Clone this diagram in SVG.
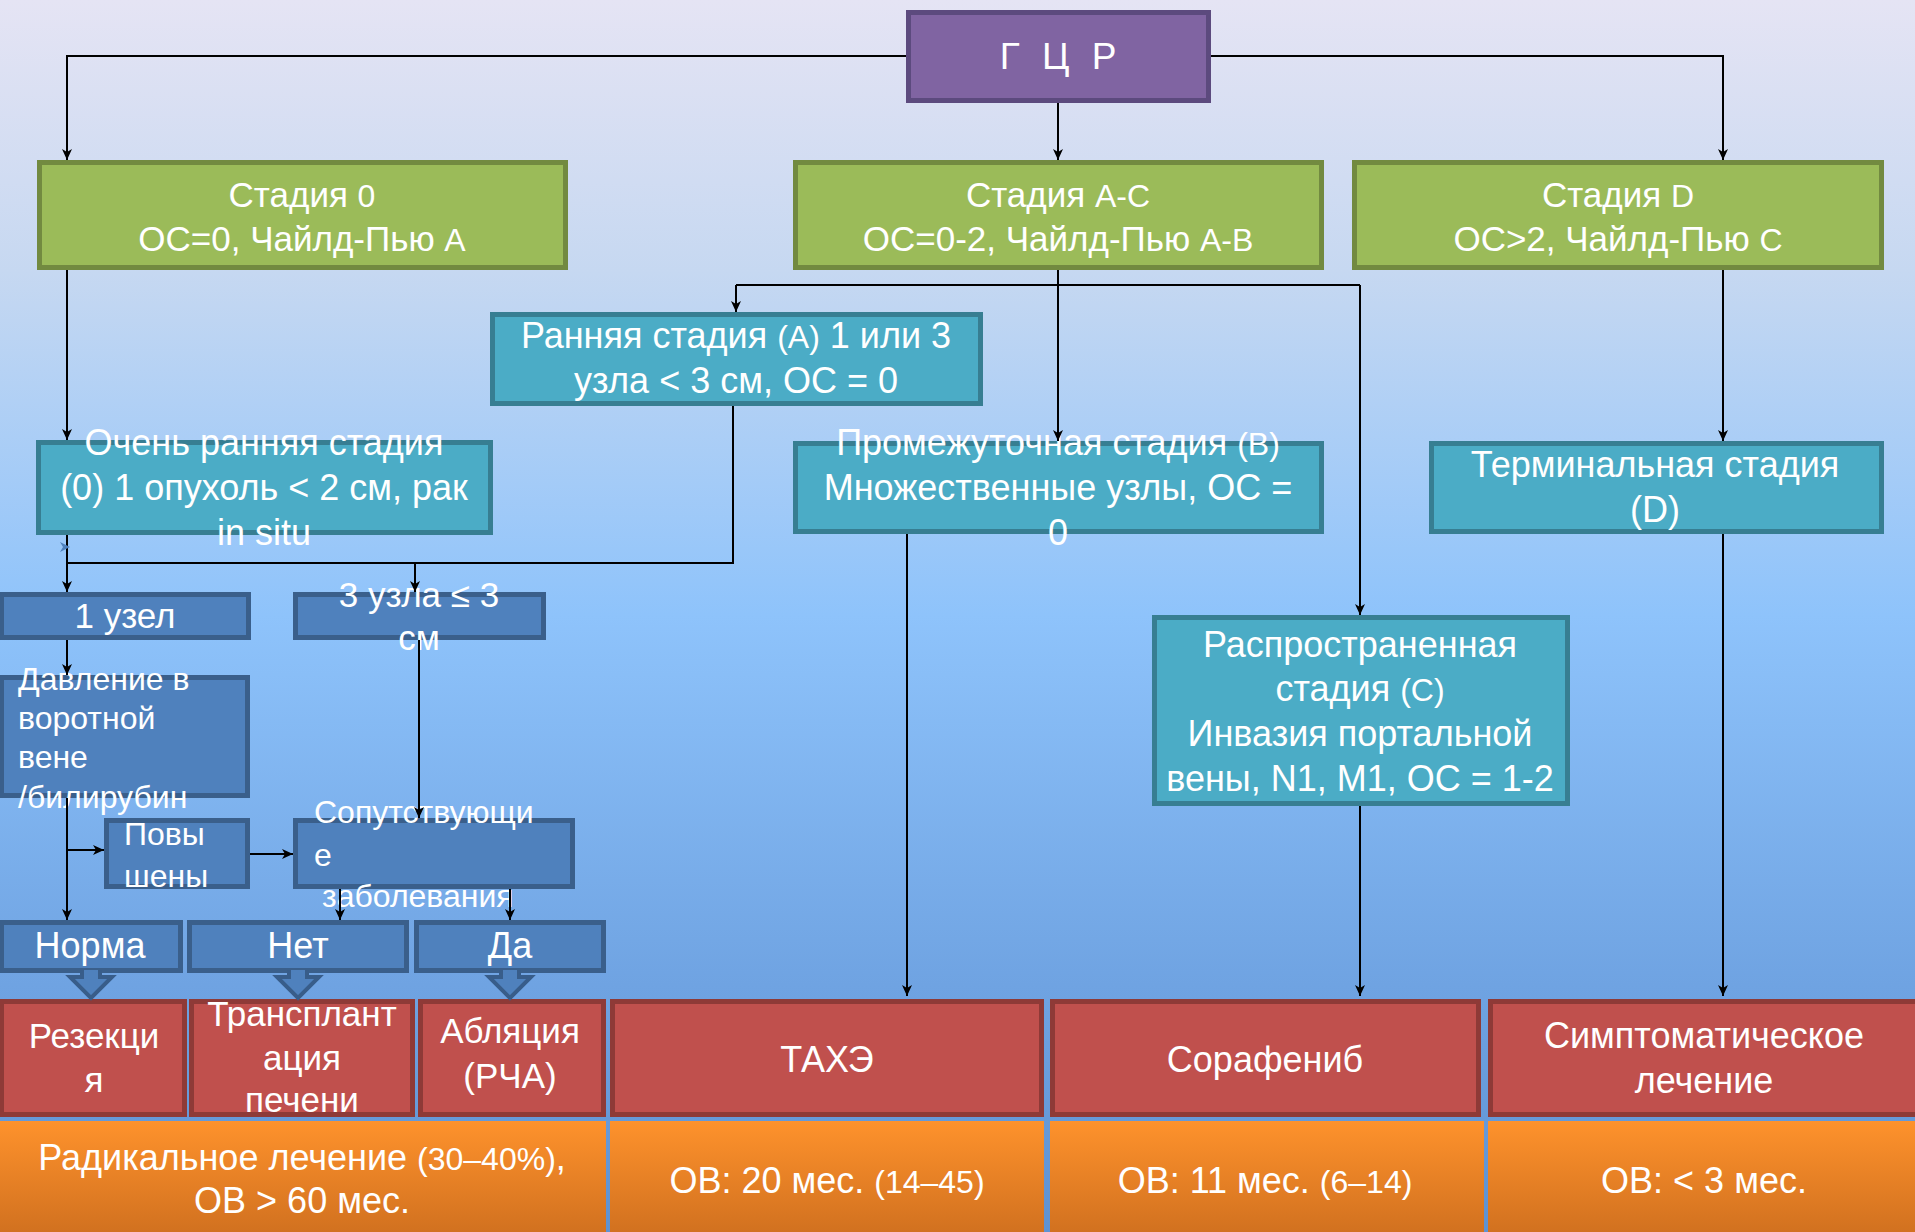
<svg xmlns="http://www.w3.org/2000/svg" width="1915" height="1232" viewBox="0 0 1915 1232">
<defs>
<linearGradient id="bg" x1="0" y1="0" x2="0" y2="1">
<stop offset="0" stop-color="#e5e4f4"/>
<stop offset="0.22" stop-color="#c6d8f1"/>
<stop offset="0.5" stop-color="#8ec3fb"/>
<stop offset="0.8" stop-color="#6fa3e2"/>
<stop offset="1" stop-color="#5e92d2"/>
</linearGradient>
<linearGradient id="og" x1="0" y1="0" x2="0" y2="1">
<stop offset="0" stop-color="#fe922c"/>
<stop offset="1" stop-color="#d0701f"/>
</linearGradient>
<marker id="ah" markerUnits="userSpaceOnUse" markerWidth="12" markerHeight="10" refX="11" refY="5" orient="auto">
<path d="M0,0 L11,5 L0,10 L3,5 z" fill="#000"/>
</marker>
<style>
.t{font-family:"Liberation Sans",Arial,sans-serif;fill:#fff;font-size:35px;text-anchor:middle}
.l{text-anchor:start}
.s32{font-size:32px}
.s36{font-size:36px}
.sm{font-size:32px}
.purple{fill:#8064a2;stroke:#5c4a7e;stroke-width:5}
.green{fill:#9bbb59;stroke:#728a40;stroke-width:5}
.teal{fill:#4bacc6;stroke:#377e92;stroke-width:5}
.blue{fill:#4f81bd;stroke:#3a5f8b;stroke-width:5}
.red{fill:#c0504d;stroke:#8e3a37;stroke-width:5}
.orange{fill:url(#og)}
.barrow{fill:#4f81bd;stroke:#385d8a;stroke-width:4;stroke-linejoin:miter}
.c{fill:none;stroke:#000;stroke-width:2}
.a{marker-end:url(#ah)}
</style>
</defs>
<rect x="0" y="0" width="1915" height="1232" fill="url(#bg)"/>

<g id="gcr"><rect class="purple" x="908.5" y="12.5" width="300" height="88"/>
<text class="t" x="1061" y="69" letter-spacing="6" style="font-size:37px">Г Ц Р</text></g>

<g id="stage0"><rect class="green" x="39.5" y="162.5" width="526" height="105"/>
<text class="t" x="302" y="207">Стадия <tspan class="sm">0</tspan></text>
<text class="t" x="302" y="251">ОС=0, Чайлд-Пью <tspan class="sm">A</tspan></text></g>

<g id="stageAC"><rect class="green" x="795.5" y="162.5" width="526" height="105"/>
<text class="t" x="1058" y="207">Стадия <tspan class="sm">A-C</tspan></text>
<text class="t" x="1058" y="251">ОС=0-2, Чайлд-Пью <tspan class="sm">A-B</tspan></text></g>

<g id="stageD"><rect class="green" x="1354.5" y="162.5" width="527" height="105"/>
<text class="t" x="1618" y="207">Стадия <tspan class="sm">D</tspan></text>
<text class="t" x="1618" y="251">ОС&gt;2, Чайлд-Пью <tspan class="sm">C</tspan></text></g>

<g id="early"><rect class="teal" x="492.5" y="314.5" width="488" height="89"/>
<text class="t s36" x="736" y="348">Ранняя стадия <tspan class="sm">(A)</tspan> 1 или 3</text>
<text class="t s36" x="736" y="393">узла &lt; 3 см, ОС = 0</text></g>

<g id="veryearly"><rect class="teal" x="38.5" y="442.5" width="452" height="90"/>
<text class="t s36" x="264" y="455">Очень ранняя стадия</text>
<text class="t s36" x="264" y="500">(0) 1 опухоль &lt; 2 см, рак</text>
<text class="t s36" x="264" y="545">in situ</text></g>

<g id="intermediate"><rect class="teal" x="795.5" y="443.5" width="526" height="88"/>
<text class="t s36" x="1058" y="455">Промежуточная стадия <tspan class="sm">(B)</tspan></text>
<text class="t s36" x="1058" y="500">Множественные узлы, ОС =</text>
<text class="t s36" x="1058" y="545">0</text></g>

<g id="terminal"><rect class="teal" x="1431.5" y="443.5" width="450" height="88"/>
<text class="t s36" x="1655" y="477">Терминальная стадия</text>
<text class="t s36" x="1655" y="522">(D)</text></g>

<g id="advanced"><rect class="teal" x="1154.5" y="617.5" width="413" height="186"/>
<text class="t s36" x="1360" y="657">Распространенная</text>
<text class="t s36" x="1360" y="701">стадия <tspan class="sm">(C)</tspan></text>
<text class="t s36" x="1360" y="746">Инвазия портальной</text>
<text class="t s36" x="1360" y="791">вены, N1, M1, ОС = 1-2</text></g>

<g id="node1"><rect class="blue" x="1.5" y="594.5" width="247" height="43"/>
<text class="t" x="125" y="628">1 узел</text></g>

<g id="node3"><rect class="blue" x="295.5" y="594.5" width="248" height="43"/>
<text class="t" x="419" y="607">3 узла ≤ 3</text>
<text class="t" x="419" y="650">см</text></g>

<g id="pressure"><rect class="blue" x="1.5" y="677.5" width="246" height="118"/>
<text class="t s32 l" x="18" y="690">Давление в</text>
<text class="t s32 l" x="18" y="729">воротной</text>
<text class="t s32 l" x="18" y="768">вене</text>
<text class="t s32 l" x="18" y="808">/билирубин</text></g>

<g id="increased"><rect class="blue" x="106.5" y="820.5" width="141" height="66"/>
<text class="t s32 l" x="124" y="845">Повы</text>
<text class="t s32 l" x="124" y="887">шены</text></g>

<g id="comorbid"><rect class="blue" x="295.5" y="820.5" width="277" height="66"/>
<text class="t s32 l" x="314" y="823">Сопутствующи</text>
<text class="t s32 l" x="314" y="866">е</text>
<text class="t s32 l" x="322" y="907">заболевания</text></g>

<g id="norm"><rect class="blue" x="1.5" y="922.5" width="179" height="48"/>
<text class="t s36" x="90" y="958">Норма</text></g>

<g id="no"><rect class="blue" x="189.5" y="922.5" width="217" height="48"/>
<text class="t s36" x="298" y="958">Нет</text></g>

<g id="yes"><rect class="blue" x="416.5" y="922.5" width="187" height="48"/>
<text class="t s36" x="510" y="958">Да</text></g>

<g id="resection"><rect class="red" x="1.5" y="1001.5" width="183" height="113"/>
<text class="t" x="94" y="1048">Резекци</text>
<text class="t" x="94" y="1092">я</text></g>

<g id="transplant"><rect class="red" x="191.5" y="1001.5" width="221" height="113"/>
<text class="t" x="302" y="1026">Трансплант</text>
<text class="t" x="302" y="1070">ация</text>
<text class="t" x="302" y="1112">печени</text></g>

<g id="ablation"><rect class="red" x="420.5" y="1001.5" width="183" height="113"/>
<text class="t" x="510" y="1043">Абляция</text>
<text class="t" x="510" y="1088">(РЧА)</text></g>

<g id="tace"><rect class="red" x="612.5" y="1001.5" width="429" height="113"/>
<text class="t s36" x="827" y="1072">ТАХЭ</text></g>

<g id="sorafenib"><rect class="red" x="1052.5" y="1001.5" width="426" height="113"/>
<text class="t s36" x="1265" y="1072">Сорафениб</text></g>

<g id="symptomatic"><rect class="red" x="1490.5" y="1001.5" width="430" height="113"/>
<text class="t s36" x="1704" y="1048">Симптоматическое</text>
<text class="t s36" x="1704" y="1093">лечение</text></g>

<g id="out-radical"><rect class="orange" x="0" y="1121" width="606" height="115"/>
<text class="t s36" x="302" y="1170">Радикальное лечение <tspan class="sm">(30–40%)</tspan>,</text>
<text class="t s36" x="302" y="1213">ОВ &gt; 60 мес.</text></g>

<g id="out-tace"><rect class="orange" x="610" y="1121" width="434" height="115"/>
<text class="t s36" x="827" y="1193">ОВ: 20 мес. <tspan class="sm">(14–45)</tspan></text></g>

<g id="out-sorafenib"><rect class="orange" x="1050" y="1121" width="434" height="115"/>
<text class="t s36" x="1265" y="1193">ОВ: 11 мес. <tspan class="sm">(6–14)</tspan></text></g>

<g id="out-symptomatic"><rect class="orange" x="1488" y="1121" width="430" height="115"/>
<text class="t s36" x="1704" y="1193">ОВ: &lt; 3 мес.</text></g>

<g id="block-arrows">
<path class="barrow" d="M82,970 L82,977 L70,977 L91,998 L112,977 L100,977 L100,970"/>
<path class="barrow" d="M289,970 L289,977 L277,977 L298,998 L319,977 L307,977 L307,970"/>
<path class="barrow" d="M501,970 L501,977 L489,977 L510,998 L531,977 L519,977 L519,970"/>
</g>

<g id="connectors">
<path class="c a" d="M906,56 L67,56 L67,160"/>
<path class="c a" d="M1058,103 L1058,160"/>
<path class="c a" d="M1211,56 L1723,56 L1723,160"/>
<path class="c a" d="M67,270 L67,440"/>
<path class="c a" d="M1058,270 L1058,441"/>
<path class="c" d="M736,285 L1360,285"/>
<path class="c a" d="M736,285 L736,312"/>
<path class="c a" d="M1360,285 L1360,615"/>
<path class="c a" d="M1723,270 L1723,441"/>
<path class="c" d="M733,406 L733,563 L67,563"/>
<path class="c a" d="M67,535 L67,592"/>
<path class="c a" d="M415,563 L415,592"/>
<path class="c a" d="M67,640 L67,675"/>
<path class="c a" d="M419,640 L419,818"/>
<path class="c a" d="M67,798 L67,920"/>
<path class="c a" d="M67,850 L104,850"/>
<path class="c a" d="M250,854 L293,854"/>
<path class="c a" d="M340,889 L340,920"/>
<path class="c a" d="M510,889 L510,920"/>
<path class="c a" d="M907,534 L907,996"/>
<path class="c a" d="M1360,806 L1360,996"/>
<path class="c a" d="M1723,534 L1723,996"/>
<path d="M60,542 L70,547 L60,552 L63,547 z" fill="#4f81bd"/>
</g>
</svg>
